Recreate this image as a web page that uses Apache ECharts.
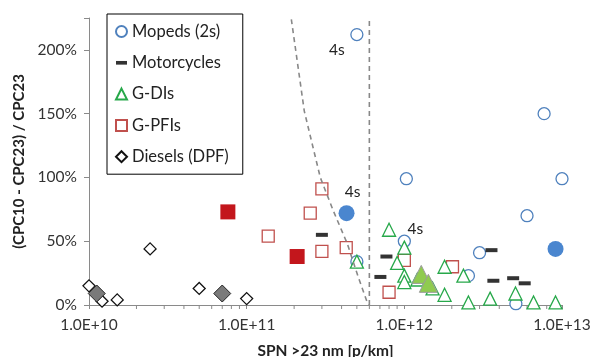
<!DOCTYPE html>
<html>
<head>
<meta charset="utf-8">
<script src="https://cdn.jsdelivr.net/npm/echarts@6/dist/echarts.min.js"></script>
<style>
  html, body { margin: 0; padding: 0; background: #fff; }
  #main { width: 594px; height: 357px; }
</style>
</head>
<body>
<div id="main"></div>
<script>
// x = SPN >23 nm [p/km], y = (CPC10 - CPC23) / CPC23 in %
var mopeds2s = [[5.0e11, 212], [7.7e12, 150], [1.03e12, 99], [1.0e13, 99], [6.0e12, 70],
                [1.0e12, 50], [3.0e12, 41], [2.55e12, 23], [5.0e11, 34], [5.1e12, 1]];
var mopeds4s = [[4.3e11, 72], [9.1e12, 44]];
var motorcycles = [[3.0e11, 55], [7.7e11, 38], [7.05e11, 22], [3.57e12, 43], [3.67e12, 19],
                   [4.9e12, 21], [5.8e12, 17]];
var gdis = [[8.0e11, 59], [1.0e12, 45], [9.0e11, 33], [1.0e12, 23], [1.0e12, 18], [1.21e12, 20],
            [1.51e12, 13], [1.8e12, 30], [1.8e12, 8], [2.37e12, 23], [2.55e12, 2], [3.5e12, 5],
            [5.07e12, 9], [6.6e12, 2], [9.1e12, 2], [5.0e11, 34]];
var gdisFilled = [[1.28e12, 24], [1.42e12, 17]];
var gpfis = [[3.0e11, 91], [2.53e11, 72], [3.0e11, 42], [4.28e11, 45], [1.37e11, 54],
             [8.0e11, 10], [1.0e12, 35], [2.02e12, 30]];
var gpfisFilled = [[7.6e10, 73], [2.09e11, 38]];
var diesels = [[1.0e10, 15], [1.21e10, 3], [1.51e10, 4], [2.44e10, 44], [5.0e10, 13], [1.0e11, 5]];
var dieselsFilled = [[1.12e10, 9], [7.0e10, 9]];

// guide lines
var slantLine = [[1.92e11, 224], [2.32e11, 152], [2.93e11, 100], [3.54e11, 74], [4.35e11, 48],
                 [5.1e11, 22], [5.82e11, 2], [6.0e11, 0]];
var limitLine = [[6.0e11, 0], [6.0e11, 225]];

// "4s" labels: series name -> index -> offset
var fourStroke = { 'Mopeds (2s)': { 0: [-20, 15], 5: [11, -12] }, 'Mopeds 4s': { 0: [6, -21] } };

var yTicks = [0, 50, 100, 150, 200];
var decades = [1e10, 1e11, 1e12];
var minorTicks = [];
decades.forEach(function (d) {
  for (var k = 2; k <= 9; k++) minorTicks.push([k * d, 0]);
});

var font = 'Lato, "Liberation Sans", sans-serif';
var axisColor = '#8a8a8a';

function withLabels(name, arr) {
  var offs = fourStroke[name] || {};
  return arr.map(function (p, i) {
    if (!offs[i]) return p;
    return {
      value: p,
      label: { show: true, position: 'inside', offset: offs[i], formatter: '4s',
               color: '#222', fontSize: 15.5, fontFamily: font }
    };
  });
}

function hollow(name, data, symbol, size, color) {
  return {
    name: name, type: 'scatter', symbol: symbol, symbolSize: size,
    data: withLabels(name, data),
    itemStyle: { color: '#fff', borderColor: color, borderWidth: 1.3, opacity: 1 },
    emphasis: { disabled: true }
  };
}

function filled(name, data, symbol, size, color, border) {
  return {
    name: name, type: 'scatter', symbol: symbol, symbolSize: size,
    data: withLabels(name, data),
    itemStyle: { color: color, borderColor: border || color, borderWidth: border ? 1 : 0, opacity: 1 },
    emphasis: { disabled: true }
  };
}

var chart = echarts.init(document.getElementById('main'));
chart.setOption({
  animation: false,
  textStyle: { fontFamily: font },
  grid: { left: 89, right: 32, top: 18, bottom: 52, containLabel: false, outerBoundsMode: 'none' },
  legend: {
    orient: 'vertical', left: 107, top: 14,
    padding: [9, 14, 9, 8], itemGap: 14.3,
    itemWidth: 11, itemHeight: 11,
    backgroundColor: '#fff', borderColor: '#000', borderWidth: 1,
    textStyle: { fontSize: 16.5, color: '#222', fontFamily: font },
    data: [
      { name: 'Mopeds (2s)' },
      { name: 'Motorcycles', icon: 'path://M0,0h12v4h-12z' },
      { name: 'G-DIs' },
      { name: 'G-PFIs' },
      { name: 'Diesels (DPF)' }
    ]
  },
  xAxis: {
    type: 'log', logBase: 10, min: 1e10, max: 1e13,
    name: 'SPN >23 nm [p/km]', nameLocation: 'middle', nameGap: 38,
    nameTextStyle: { fontSize: 15.5, fontWeight: 'bold', color: '#222', fontFamily: font },
    axisLine: { lineStyle: { color: axisColor, width: 1 } },
    axisTick: { show: true, inside: false, length: 4, lineStyle: { color: axisColor } },
    axisLabel: {
      fontSize: 15.5, color: '#333', margin: 12,
      formatter: function (v) { return v.toExponential(1).toUpperCase(); }
    },
    splitLine: { show: false }
  },
  yAxis: {
    type: 'value', min: 0, max: 225, interval: 50,
    name: '(CPC10 - CPC23) / CPC23', nameLocation: 'middle', nameGap: 57,
    nameTextStyle: { fontSize: 15, fontWeight: 'bold', color: '#222', fontFamily: font },
    axisLine: { show: true, lineStyle: { color: axisColor, width: 1 } },
    axisTick: { show: true, length: 5, lineStyle: { color: axisColor } },
    axisLabel: {
      fontSize: 15.5, color: '#333', margin: 12,
      formatter: function (v) { return yTicks.indexOf(v) >= 0 ? v + '%' : ''; }
    },
    splitLine: { show: false }
  },
  series: [
    {
      name: 'minor', type: 'custom', silent: true, clip: false, data: minorTicks,
      renderItem: function (params, api) {
        var p = api.coord([api.value(0), 0]);
        return { type: 'line', shape: { x1: p[0], y1: p[1], x2: p[0], y2: p[1] + 4 },
                 style: { stroke: axisColor, lineWidth: 1 } };
      }
    },
    {
      name: 'slant', type: 'line', data: slantLine, symbol: 'none', silent: true,
      lineStyle: { color: '#888', width: 1.6, type: [5, 4] }
    },
    {
      name: 'limit', type: 'line', data: limitLine, symbol: 'none', silent: true,
      lineStyle: { color: '#888', width: 1.6, type: [5, 4] }
    },
    hollow('Diesels (DPF)', diesels, 'diamond', 12, '#111'),
    filled('Diesels filled', dieselsFilled, 'diamond', 17, '#7a7a7a', '#222'),
    hollow('G-PFIs', gpfis, 'rect', 12, '#c0504d'),
    filled('G-PFIs filled', gpfisFilled, 'rect', 15, '#c3161c'),
    hollow('Mopeds (2s)', mopeds2s, 'circle', 12, '#4f81bd'),
    filled('Mopeds 4s', mopeds4s, 'circle', 16, '#4a86cf'),
    hollow('G-DIs', gdis, 'triangle', 13, '#27a84a'),
    filled('G-DIs filled', gdisFilled, 'triangle', 18, '#8fcb4f', '#9a9a9a'),
    {
      name: 'Motorcycles', type: 'scatter', symbol: 'rect', symbolSize: [12, 4],
      data: motorcycles, itemStyle: { color: '#000' }, emphasis: { disabled: true }
    }
  ]
});
</script>
</body>
</html>
